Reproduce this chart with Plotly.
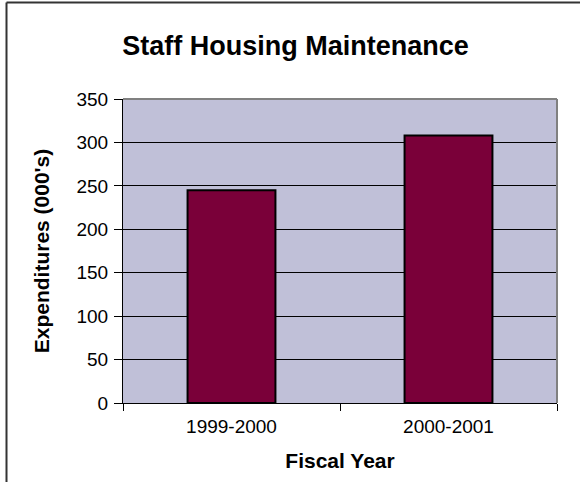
import plotly.graph_objects as go

# Fiscal-year spending data (thousands of dollars)
fiscal_years = ["1999-2000", "2000-2001"]
expenditures = [245, 308]

W, H = 580, 482
# plot-area pixel box
L, R, T, B = 123, 557, 99, 403
pw, ph = R - L, B - T

def px_x(x):
    return (x - L) / pw

def px_y(y):
    return (B - y) / ph

font_family = "Arial, Liberation Sans, sans-serif"

fig = go.Figure(
    go.Bar(
        x=fiscal_years,
        y=expenditures,
        marker=dict(color="#7A0039", line=dict(color="#000000", width=2)),
        width=0.405,
    )
)

fig.update_layout(
    width=W,
    height=H,
    margin=dict(l=L, r=W - R, t=T, b=H - B, pad=0),
    paper_bgcolor="#FFFFFF",
    plot_bgcolor="#C0C0D8",
    showlegend=False,
    font=dict(family=font_family, color="#000000", size=19),
    title=dict(
        text="<b>Staff Housing Maintenance</b>",
        font=dict(size=27, family=font_family, color="#000000"),
        x=px_x(295.5), xref="paper", xanchor="center",
        y=1 - 46 / H, yref="container", yanchor="middle",
    ),
    xaxis=dict(
        showgrid=False,
        showline=True, linecolor="#000000", linewidth=1,
        ticks="outside", tickson="boundaries", ticklen=7, tickcolor="#000000",
        ticklabelstandoff=6,
        tickfont=dict(size=19, family=font_family),
        title=dict(text="<b>Fiscal Year</b>", font=dict(size=21, family=font_family), standoff=17),
        zeroline=False,
    ),
    yaxis=dict(
        range=[0, 350], dtick=50, tick0=0,
        showgrid=True, gridcolor="#000000", gridwidth=1,
        showline=True, linecolor="#000000", linewidth=1,
        ticks="outside", ticklen=8, tickcolor="#000000",
        ticklabelstandoff=2,
        tickfont=dict(size=19, family=font_family),
        title=dict(text="<b>Expenditures (000's)</b>", font=dict(size=21, family=font_family), standoff=21),
        zeroline=False,
    ),
    shapes=[
        # grey top and right edges of the plot area
        dict(type="line", xref="paper", yref="paper", x0=0, x1=1, y0=1, y1=1,
             line=dict(color="#808080", width=2)),
        dict(type="line", xref="paper", yref="paper", x0=1, x1=1, y0=0, y1=1,
             line=dict(color="#808080", width=2)),
        # chart frame (top and left)
        dict(type="line", xref="paper", yref="paper",
             x0=px_x(6.5), x1=px_x(600), y0=px_y(2.5), y1=px_y(2.5),
             line=dict(color="#333333", width=2)),
        dict(type="line", xref="paper", yref="paper",
             x0=px_x(6.5), x1=px_x(6.5), y0=px_y(2.5), y1=px_y(500),
             line=dict(color="#333333", width=2)),
    ],
)

fig.write_html("out.html")
